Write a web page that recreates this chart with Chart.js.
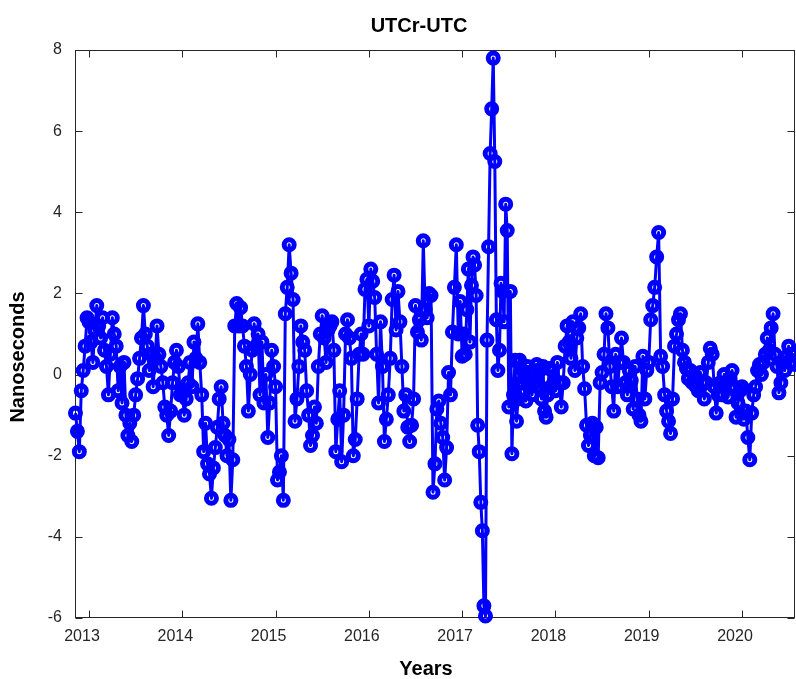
<!DOCTYPE html>
<html>
<head>
<meta charset="utf-8">
<title>UTCr-UTC</title>
<script src="https://cdn.jsdelivr.net/npm/chart.js@4.4.1/dist/chart.umd.min.js"></script>
<style>
  html, body { margin: 0; padding: 0; background: #ffffff; }
  #wrap { width: 796px; height: 679px; }
</style>
</head>
<body>
<div id="wrap"><canvas id="utcChart" width="796" height="679"></canvas></div>
<script>
// UTCr-UTC (ns), grouped by year
const y2012 = [-0.95, -1.4, -1.9, -0.4, 0.1, 0.7, 1.4];
const y2013 = [1.3, 0.8, 0.3, 1.1, 1.7, 1.2, 0.9, 1.4, 0.6, 0.2, -0.5, 0.5, 1.4, 1.0, 0.7, -0.4,
  0.2, -0.7, 0.3, -1.0, -1.5, -1.2, -1.65, -1.0, -0.5, -0.1, 0.4, 0.9, 1.7, 1.0, 0.7, 0.1,
  0.5, -0.3, 0.4, 1.2, 0.5, 0.2, -0.2, -0.8, -1.0, -1.5, -0.9, -0.2, 0.3, 0.6, 0.2, -0.5];
const y2014 = [-0.4, -1.0, -0.6, -0.2, 0.3, -0.3, 0.8, 0.4, 1.25, 0.3, -0.5, -1.9, -1.2, -2.2, -2.45, -3.05,
  -2.3, -1.8, -1.3, -0.6, -0.3, -1.2, -1.5, -2.0, -1.6, -3.1, -2.1, 1.2, 1.75, 1.2, 1.65, 1.2,
  0.7, 0.2, -0.9, 0.0, 0.6, 1.25, 0.7, 1.0, -0.5, 0.8, -0.7, 0.0, -1.55, -0.7, 0.6, 0.2];
const y2015 = [-0.3, -2.6, -2.4, -2.0, -3.1, 1.5, 2.15, 3.2, 2.5, 1.85, -1.15, -0.6, 0.2, 1.2, 0.8, 0.6,
  -0.4, -1.0, -1.75, -1.5, -0.8, -1.2, 0.2, 1.0, 1.45, 0.9, 0.3, 1.1, 1.2, 1.3, 0.6, -1.9,
  -1.1, -0.4, -2.15, -1.0, 1.0, 1.35, 0.9, 0.4, -2.0, -1.6, -0.6, 0.5, 1.0, 0.5, 2.1, 2.35];
const y2016 = [1.2, 2.6, 2.3, 1.9, 0.5, -0.7, 1.3, 0.2, -1.65, -1.1, -0.5, 0.4, 1.85, 2.45, 1.1, 2.05,
  1.3, 0.2, -0.9, -0.5, -1.3, -1.65, -1.25, -0.6, 1.7, 1.05, 1.35, 0.85, 3.3, 1.6, 1.4, 2.0,
  1.95, -2.9, -2.2, -0.85, -0.65, -1.2, -1.55, -2.6, -1.8, 0.05, -0.5, 1.05, 2.15, 3.2, 1.0, 1.8];
const y2017 = [0.45, 1.0, 0.5, 1.6, 2.6, 0.8, 2.2, 2.9, 2.7, 1.95, -1.25, -1.9, -3.15, -3.85, -5.7,
  -5.95, 0.85, 3.15, 5.45, 6.55, 7.8, 5.25, 1.35, 0.1, 0.6, 2.25, 2.05, 1.3, 4.2, 3.55,
  -0.8, 2.05, -1.95, -0.5, 0.35, -1.15, -0.6, 0.35, -0.2, 0.1, -0.4, -0.65, 0.2, -0.3, 0.0,
  -0.5, 0.1, -0.2, 0.25, -0.3, 0.1, -0.6, 0.2, -0.9, -1.05, -0.5, 0.15, -0.3, 0.1, -0.2];
const y2018 = [-0.4, 0.3, -0.2, -0.8, -0.2, 0.7, 1.2, 0.8, 0.4, 1.3, 0.1, 0.9, 1.15, 1.5, 0.2, -0.35,
  -1.25, -1.75, -1.5, -1.2, -2.0, -1.3, -2.05, -0.2, 0.05, 0.5, 1.5, 1.15, 0.2, -0.3, -0.9, 0.5,
  -0.3, 0.3, 0.9, 0.3, -0.2, -0.5, 0.1, -0.15, -0.85, 0.2, -0.6, -1.0, -1.15, 0.45, -0.6, 0.1];
const y2019 = [0.3, 1.35, 1.7, 2.15, 2.9, 3.5, 0.45, 0.2, -0.5, -0.9, -1.15, -1.45, -0.6, 0.7, 1.0, 1.35,
  1.5, 0.6, 0.3, 0.15, -0.1, 0.1, -0.2, 0.0, -0.3, -0.4, 0.05, -0.2, -0.6, -0.2, 0.3, 0.65,
  0.5, -0.3, -0.95, -0.5, -0.2, -0.5, 0.0, -0.2, -0.55, -0.1, 0.1, -0.3, -1.05, -0.7, -0.4];
const y2020 = [-0.3, -1.1, -0.9, -1.55, -2.1, -0.95, -0.5, -0.3, 0.1, 0.25, 0.0, 0.3, 0.5, 0.9,
  0.6, 1.15, 1.5, 0.5, 0.2, -0.45, -0.2, 0.3, 0.1, 0.45, 0.7, 0.3, 0.5, 0.25];

// where each block starts and how much of the year it covers
const blockStart = [2012.855, 2013, 2014, 2015, 2016, 2017, 2018, 2019, 2020];
const blockSpan = [0.145, 1, 1, 1, 1, 1, 1, 1, 28 / 48];
const blockValues = [y2012, y2013, y2014, y2015, y2016, y2017, y2018, y2019, y2020];

const yearTicks = [2013, 2014, 2015, 2016, 2017, 2018, 2019, 2020];
const nsTicks = [-6, -4, -2, 0, 2, 4, 6, 8];

const points = [];
blockValues.forEach(function (vals, b) {
  vals.forEach(function (v, i) {
    points.push({ x: blockStart[b] + i * blockSpan[b] / vals.length, y: v });
  });
});

const FONT = "'Liberation Sans', Arial, Helvetica, sans-serif";
const AXIS = "#262626";

// MATLAB-ish box, inward ticks and the three titles
const matlabAxes = {
  id: "matlabAxes",
  beforeDatasetsDraw(chart) {
    const ctx = chart.ctx;
    const a = chart.chartArea;
    const sx = chart.scales.x;
    const sy = chart.scales.y;
    const L = Math.round(a.left) + 0.5, R = Math.round(a.right) - 0.5;
    const T = Math.round(a.top) + 0.5, B = Math.round(a.bottom) - 0.5;
    ctx.save();
    ctx.strokeStyle = AXIS;
    ctx.lineWidth = 1;
    ctx.strokeRect(L, T, R - L, B - T);
    ctx.beginPath();
    sx.ticks.forEach(function (t) {
      const px = Math.round(sx.getPixelForValue(t.value)) + 0.5;
      ctx.moveTo(px, B); ctx.lineTo(px, B - 7);
      ctx.moveTo(px, T); ctx.lineTo(px, T + 7);
    });
    sy.ticks.forEach(function (t) {
      const py = Math.round(sy.getPixelForValue(t.value)) + 0.5;
      ctx.moveTo(L, py); ctx.lineTo(L + 7, py);
      ctx.moveTo(R, py); ctx.lineTo(R - 7, py);
    });
    ctx.stroke();
    ctx.restore();
  },
  afterDraw(chart) {
    const ctx = chart.ctx;
    ctx.save();
    ctx.fillStyle = "#000000";
    ctx.font = "bold 20px " + FONT;
    ctx.textAlign = "center";
    ctx.textBaseline = "alphabetic";
    ctx.fillText("UTCr-UTC", 419, 32);
    ctx.fillText("Years", 426, 675);
    ctx.translate(24, 357);
    ctx.rotate(-Math.PI / 2);
    ctx.fillText("Nanoseconds", 0, 0);
    ctx.restore();
  }
};

new Chart(document.getElementById("utcChart"), {
  type: "line",
  data: {
    datasets: [{
      data: points,
      borderColor: "#0000ff",
      borderWidth: 3,
      borderJoinStyle: "round",
      tension: 0,
      pointRadius: 5,
      pointBorderWidth: 5,
      pointBorderColor: "#0000ff",
      pointBackgroundColor: "rgba(0,0,0,0)",
      clip: false
    }]
  },
  options: {
    responsive: false,
    animation: false,
    events: [],
    layout: { autoPadding: false, padding: { top: 50, right: 1, bottom: 0, left: 0 } },
    plugins: {
      legend: { display: false },
      title: { display: false },
      tooltip: { enabled: false }
    },
    scales: {
      x: {
        type: "linear",
        min: 2012.85,
        max: 2020.568,
        afterBuildTicks: function (s) { s.ticks = yearTicks.map(function (v) { return { value: v }; }); },
        afterFit: function (s) { s.height = 61; s.paddingLeft = 0; s.paddingRight = 0; },
        grid: { display: false, drawTicks: false },
        border: { display: false },
        ticks: {
          autoSkip: false,
          maxRotation: 0,
          padding: 9,
          labelOffset: -7,
          color: AXIS,
          font: { family: FONT, size: 16 },
          callback: function (v) { return String(v); }
        }
      },
      y: {
        min: -6,
        max: 8,
        afterBuildTicks: function (s) { s.ticks = nsTicks.map(function (v) { return { value: v }; }); },
        afterFit: function (s) { s.width = 75; },
        grid: { display: false, drawTicks: false },
        border: { display: false },
        ticks: {
          padding: 13,
          color: AXIS,
          font: { family: FONT, size: 16 },
          callback: function (v) { return String(v); }
        }
      }
    }
  },
  plugins: [matlabAxes]
});
</script>
</body>
</html>
